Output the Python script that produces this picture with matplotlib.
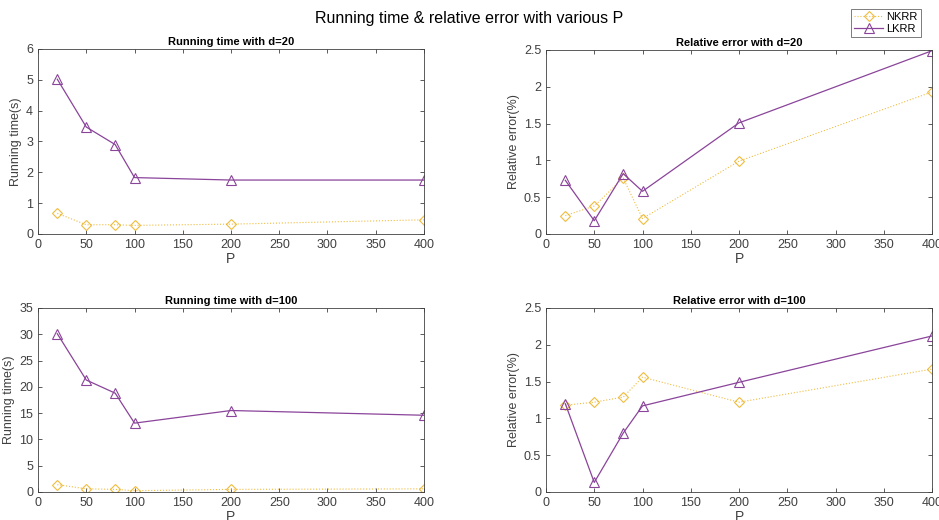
import matplotlib
matplotlib.use("Agg")
import matplotlib.pyplot as plt

plt.rcParams['font.family'] = ['Liberation Sans', 'DejaVu Sans']

P = [20, 50, 80, 100, 200, 400]

# running time, d=20
nkrr_time_20 = [0.67, 0.30, 0.30, 0.28, 0.32, 0.46]
lkrr_time_20 = [5.02, 3.47, 2.90, 1.83, 1.75, 1.75]
# relative error, d=20
nkrr_err_20 = [0.25, 0.38, 0.76, 0.21, 0.99, 1.93]
lkrr_err_20 = [0.73, 0.18, 0.82, 0.58, 1.51, 2.49]
# running time, d=100
nkrr_time_100 = [1.4, 0.6, 0.5, 0.25, 0.5, 0.6]
lkrr_time_100 = [30.1, 21.3, 18.8, 13.1, 15.5, 14.6]
# relative error, d=100
nkrr_err_100 = [1.18, 1.22, 1.29, 1.56, 1.22, 1.67]
lkrr_err_100 = [1.20, 0.13, 0.80, 1.17, 1.49, 2.12]

purple = '#8A449A'
yellow = '#EDB120'
gray = '#404040'

fig = plt.figure(figsize=(9.39, 5.2), dpi=100)

W, H = 939.0, 520.0
def box(l, t, r, b):
    return [l / W, 1 - b / H, (r - l) / W, (b - t) / H]

panels = [
    (box(38, 49, 424, 234), nkrr_time_20, lkrr_time_20, 'Running time with d=20',
     'Running time(s)', (0, 6), [0, 1, 2, 3, 4, 5, 6]),
    (box(546, 50, 932, 234), nkrr_err_20, lkrr_err_20, 'Relative error with d=20',
     'Relative error(%)', (0, 2.5), [0, 0.5, 1, 1.5, 2, 2.5]),
    (box(38, 308, 424, 492), nkrr_time_100, lkrr_time_100, 'Running time with d=100',
     'Running time(s)', (0, 35), [0, 5, 10, 15, 20, 25, 30, 35]),
    (box(546, 308, 932, 492), nkrr_err_100, lkrr_err_100, 'Relative error with d=100',
     'Relative error(%)', (0, 2.5), [0, 0.5, 1, 1.5, 2, 2.5]),
]

for pos, nk, lk, title, ylab, ylim, yticks in panels:
    ax = fig.add_axes(pos)
    l1, = ax.plot(P, nk, color=yellow, linestyle=':', lw=0.8, marker='D',
                  markersize=5.5, markerfacecolor='none', markeredgewidth=0.8, alpha=0.85)
    l2, = ax.plot(P, lk, color=purple, linestyle='-', lw=0.9, marker='^',
                  markersize=6.5, markerfacecolor='none', markeredgewidth=0.8)
    ax.set_xlim(0, 400)
    ax.set_ylim(*ylim)
    ax.set_xticks(range(0, 401, 50))
    ax.set_yticks(yticks)
    ax.set_yticklabels([('%g' % v) for v in yticks])
    ax.tick_params(direction='in', top=True, right=True, labelsize=9,
                   colors=gray, length=3, width=0.6)
    for s in ax.spines.values():
        s.set_color(gray)
        s.set_linewidth(0.6)
    ax.set_title(title, fontsize=8, fontweight='bold', pad=3)
    ax.set_xlabel('P', fontsize=10, color=gray, labelpad=1)
    ax.set_ylabel(ylab, fontsize=9, color=gray, labelpad=3)

fig.text(0.5, 1 - 18 / H, 'Running time & relative error with various P',
         ha='center', va='center', fontsize=11.5)

leg = fig.legend([l1, l2], ['NKRR', 'LKRR'], loc='upper right',
                 bbox_to_anchor=(921 / W, 1 - 9 / H), fontsize=8,
                 frameon=True, fancybox=False, edgecolor=gray,
                 handlelength=2.6, handletextpad=0.3, borderpad=0.3,
                 labelspacing=0.15, borderaxespad=0)
leg.get_frame().set_linewidth(0.6)

fig.savefig('out.png', dpi=100)
